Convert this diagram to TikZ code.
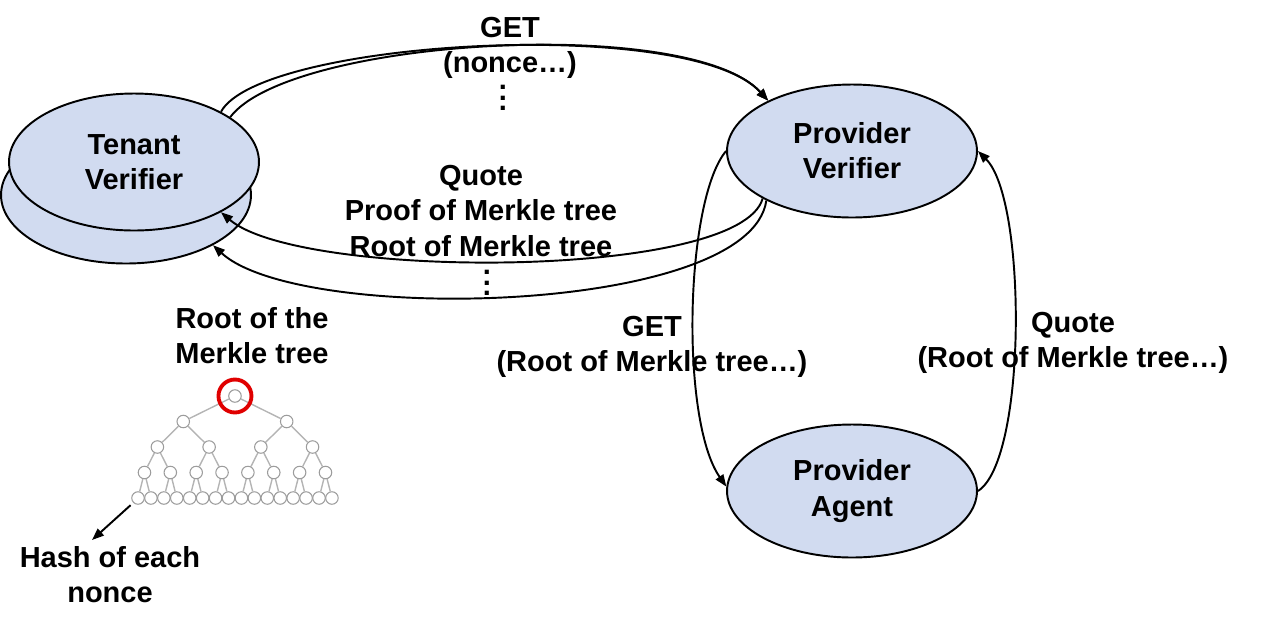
\documentclass[tikz,border=0pt]{standalone}
\usepackage{fontspec}
\setmainfont{Liberation Sans}
\usepackage{tikz}
\usetikzlibrary{shapes.geometric,arrows.meta}
\definecolor{NodeBlue}{HTML}{D1DBF0}
\definecolor{TreeGray}{HTML}{9C9C9C}
\definecolor{BranchGray}{HTML}{B4B4B4}
\definecolor{MarkRed}{HTML}{E00000}
\newcommand{\vdotsbold}{\vbox{\baselineskip=5.9pt\lineskiplimit=-10pt\hbox{.}\hbox{.}\hbox{.}}}

\begin{document}
\begin{tikzpicture}[
      x=0.02cm, y=-0.02cm,
      every node/.style={align=center, font=\bfseries\fontsize{16.5}{20}\selectfont},
      party/.style={draw, ellipse, fill=NodeBlue, line width=1.1pt, minimum width=5cm, minimum height=2.66cm, inner sep=0pt},
      leaf/.style={draw=TreeGray, circle, fill=white, line width=0.6pt, minimum size=0.25cm, inner sep=0pt},
      branch/.style={BranchGray, line width=0.8pt},
      arrow/.style={line width=1.1pt, -{Triangle[length=0.24cm,width=0.18cm]}}
    ]
      \useasboundingbox (0,0) rectangle (1279,627);
      \node[party, minimum height=2.74cm] (tenantback) at (126,195) {};
      \node[party, minimum height=2.74cm] (tenant) at (134,162) {Tenant\\Verifier};
      \node[party] (pverifier) at (852,151) {Provider\\Verifier};
      \node[party] (pagent) at (852,491) {Provider\\Agent};
      % Requests to the provider
      \draw[arrow] (tenant.30) .. controls (260,40) and (690,15) .. (pverifier.149);
      \draw[arrow] (tenant.25) .. controls (290,38) and (690,15) .. (pverifier.149);
      % Replies to the tenant
      \draw[arrow] (pverifier.208) .. controls (740,280) and (300,280) .. (tenant.330);
      \draw[arrow] (pverifier.210) .. controls (750,315) and (300,325) .. (tenantback.330);
      % Provider exchange
      \draw[arrow] (pverifier.180) .. controls (685,200) and (680,420) .. (pagent.178);
      \draw[arrow] (pagent.0) .. controls (1027,460) and (1027,200) .. (pverifier.0);
      \node (getnonce) at (510,48) {GET\\(nonce…)};
      \node (dotsreq) at (503,98) {\vdotsbold};
      \node (quotemsg) at (481,211) {Quote\\Proof of Merkle tree\\Root of Merkle tree};
      \node (dotsresp) at (487,283) {\vdotsbold};
      \node (getroot) at (652,347) {GET\\(Root of Merkle tree…)};
      \node (quoteroot) at (1073,343) {Quote\\(Root of Merkle tree…)};
      \node (rootlabel) at (252,336) {Root of the\\Merkle tree};
      \node (hashlabel) at (110,575) {Hash of each\\nonce};
      % Merkle tree
      \foreach \l in {0,...,4}{
        \pgfmathtruncatemacro{\last}{2^\l-1}
        \foreach \i in {0,...,\last}
          \node[leaf] (m-\l-\i) at ({138+12.93*((\i+0.5)*2^(4-\l)-0.5)}, {396+25.5*\l}) {};
      }
      \foreach \l in {1,...,4}{
        \pgfmathtruncatemacro{\last}{2^\l-1}
        \pgfmathtruncatemacro{\up}{\l-1}
        \foreach \i in {0,...,\last}{
          \pgfmathtruncatemacro{\parent}{floor(\i/2)}
          \draw[branch] (m-\up-\parent) -- (m-\l-\i);
        }
      }
      \node[draw=MarkRed, circle, line width=2.2pt, minimum size=0.66cm, inner sep=0pt] (rootmark) at (m-0-0) {};
      \coordinate (hashtip) at (92,540);
      \draw[arrow, shorten <=2pt] (m-4-0.225) -- (hashtip);
    \end{tikzpicture}
\end{document}
